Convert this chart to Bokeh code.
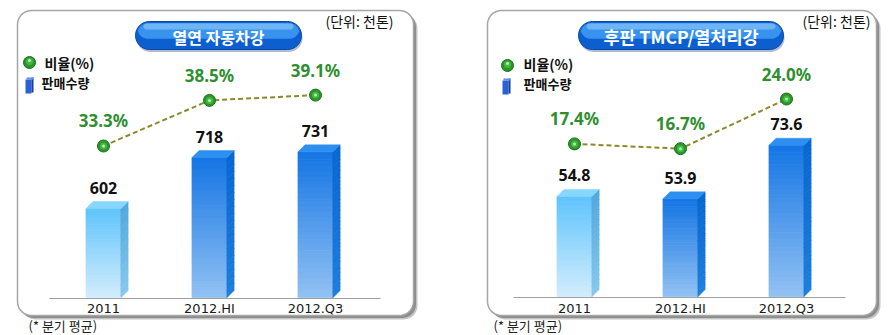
import math
from bokeh.plotting import figure
from bokeh.models import Range1d
from bokeh.embed import file_html
from bokeh.resources import INLINE
from bokeh.core.properties import value

# ---------------- data ----------------
categories = ["2011", "2012.HI", "2012.Q3"]

left_title = "열연 자동차강"
left_volume = [602, 718, 731]
left_ratio = [33.3, 38.5, 39.1]
left_volume_labels = ["602", "718", "731"]

right_title = "후판 TMCP/열처리강"
right_volume = [54.8, 53.9, 73.6]
right_ratio = [17.4, 16.7, 24.0]
right_volume_labels = ["54.8", "53.9", "73.6"]

unit_text = "(단위: 천톤)"
legend_ratio = "비율(%)"
legend_volume = "판매수량"
footnote_text = "(* 분기 평균)"

# ---------------- styles / layout ----------------
W, H = 893, 335
KR = value("Noto Sans CJK KR")
NUM = value("Noto Sans")
CAT = value("DejaVu Sans")

LIGHT = dict(front=("#d3edfc", "#60c4fd"), side=("#86c8ee", "#4ea7dc"), top="#86d6ff")
DARK = dict(front=("#92c2f3", "#1475e4"), side=("#1c7ddc", "#0766d0"), top="#2d8ff0")
bar_styles = [LIGHT, DARK, DARK]

panels = [
    dict(box=(17, 10, 413, 315), pill=(135, 21, 301, 49), title=left_title, title_size="16px",
         unit_x=393, leg_dot=(29, 62), leg_txt1=(44, 62), leg_icon=(25, 77), leg_txt2=(41, 82),
         cat0=103, spacing=106, base_px=297, base_val=400, k=0.44,
         pct_anchor=(36.97, 113.3, 8.77), line=(49, 380, 298), foot=(28, 325),
         volume=left_volume, vlabels=left_volume_labels, ratio=left_ratio),
    dict(box=(487, 10, 876, 315), pill=(578, 21, 783, 49), title=right_title, title_size="17.5px",
         unit_x=870, leg_dot=(507, 65), leg_txt1=(523, 63), leg_icon=(502, 78), leg_txt2=(523, 83),
         cat0=574, spacing=106, base_px=296, base_val=18.0, k=2.72,
         pct_anchor=(19.37, 130.0, 6.80), line=(513, 845, 297), foot=(493, 325),
         volume=right_volume, vlabels=right_volume_labels, ratio=right_ratio),
]


def hex2rgb(h):
    h = h.lstrip("#")
    return tuple(int(h[i:i + 2], 16) for i in (0, 2, 4))


def mix(c0, c1, t):
    a, b = hex2rgb(c0), hex2rgb(c1)
    return "#%02x%02x%02x" % tuple(int(round(a[i] + (b[i] - a[i]) * t)) for i in range(3))


def rrect(x0, y0, x1, y1, r, n=10):
    xs, ys = [], []
    corners = [((x0 + r, y0 + r), 180), ((x1 - r, y0 + r), 270),
               ((x1 - r, y1 - r), 0), ((x0 + r, y1 - r), 90)]
    for (cx, cy), a0 in corners:
        for j in range(n + 1):
            a = math.radians(a0 + 90 * j / n)
            xs.append(cx + r * math.cos(a))
            ys.append(cy + r * math.sin(a))
    return xs, ys


p = figure(width=W, height=H, x_range=Range1d(0, W), y_range=Range1d(H, 0),
           output_backend="svg", toolbar_location=None, min_border=0,
           x_axis_location=None, y_axis_location=None)
p.grid.visible = False
p.outline_line_color = None
p.background_fill_color = "white"
p.border_fill_color = "white"

for n, pn in enumerate(panels):
    cname, vname, pname = f"c{n}", f"v{n}", f"p{n}"
    sp = pn["spacing"]
    p.extra_x_ranges[cname] = Range1d(-pn["cat0"] / sp, (W - pn["cat0"]) / sp)
    k, bpx, bval = pn["k"], pn["base_px"], pn["base_val"]
    p.extra_y_ranges[vname] = Range1d(bval - (H - bpx) / k, bval + bpx / k)
    m, a, s = pn["pct_anchor"]
    p.extra_y_ranges[pname] = Range1d(m - (H - a) / s, m + a / s)

    # panel box with shadow
    x0, y0, x1, y1 = pn["box"]
    xs, ys = rrect(x0 + 4, y0 + 4, x1 + 4, y1 + 4, 14)
    p.patch(xs, ys, fill_color="#c4c4c4", line_color=None)
    xs, ys = rrect(x0 + 2.5, y0 + 2.5, x1 + 2.5, y1 + 2.5, 14)
    p.patch(xs, ys, fill_color="#8c8c8c", line_color=None)
    xs, ys = rrect(x0, y0, x1, y1, 14)
    p.patch(xs, ys, fill_color="white", line_color="#a6a6a6", line_width=1.5)

    # title pill
    px0, py0, px1, py1 = pn["pill"]
    r = (py1 - py0) / 2
    xs, ys = rrect(px0 + 1, py0 + 2.5, px1 + 1, py1 + 2.5, r)
    p.patch(xs, ys, fill_color="#1d3d6e", fill_alpha=0.35, line_color=None)
    xs, ys = rrect(px0, py0, px1, py1, r)
    p.patch(xs, ys, fill_color="#0d5fd0", line_color="#0a48a8", line_width=1)
    xs, ys = rrect(px0 + 2, py0 + 1.5, px1 - 2, py0 + (py1 - py0) * 0.62, r * 0.75)
    p.patch(xs, ys, fill_color="#3f9cf2", fill_alpha=0.85, line_color=None)
    xs, ys = rrect(px0 + 8, py0 + 2, px1 - 8, py0 + 8, 3)
    p.patch(xs, ys, fill_color="#9ed0fb", fill_alpha=0.55, line_color=None)
    p.text(x=[(px0 + px1) / 2], y=[(py0 + py1) / 2 + 1], text=[pn["title"]],
           text_font=KR, text_font_style="bold", text_font_size=pn["title_size"],
           text_color="white", text_align="center", text_baseline="middle")

    # unit text
    p.text(x=[pn["unit_x"]], y=[20], text=[unit_text], text_font=KR,
           text_font_size="14px", text_color="#111111",
           text_align="right", text_baseline="middle")

    # legend
    lx, ly = pn["leg_dot"]
    p.scatter([lx], [ly], size=12, fill_color="#2a962a", line_color="#1d6e1d")
    p.scatter([lx], [ly - 1], size=7, fill_color="#44b844", line_color=None)
    p.scatter([lx], [ly - 2], size=3, fill_color="#b8f0b0", line_color=None)
    p.text(x=[pn["leg_txt1"][0]], y=[pn["leg_txt1"][1]], text=[legend_ratio],
           text_font=KR, text_font_style="bold", text_font_size="14px",
           text_color="#111111", text_align="left", text_baseline="middle")
    ix, iy = pn["leg_icon"]
    p.quad(left=[ix], right=[ix + 6], top=[iy + 2], bottom=[iy + 16],
           fill_color="#2a5fd6", line_color=None)
    p.quad(left=[ix + 6], right=[ix + 8], top=[iy], bottom=[iy + 15],
           fill_color="#163c9c", line_color=None)
    p.quad(left=[ix + 1], right=[ix + 8], top=[iy], bottom=[iy + 2],
           fill_color="#5b8ef0", line_color=None)
    p.text(x=[pn["leg_txt2"][0]], y=[pn["leg_txt2"][1]], text=[legend_volume],
           text_font=KR, text_font_style="bold", text_font_size="13px",
           text_color="#111111", text_align="left", text_baseline="middle")

    # baseline
    lx0, lx1, lyy = pn["line"]
    p.line([lx0, lx1], [lyy, lyy], line_color="#a0a0a0", line_width=1)

    # bars (3D with gradient)
    idx = list(range(len(categories)))
    bw = 35 / sp
    dx = 7 / sp
    dy = 7 / k
    NS = 40
    fl, fr, fb, ft, fc = [], [], [], [], []
    sxs, sys_, sc = [], [], []
    txs, tys, tc = [], [], []
    for i, v in zip(idx, pn["volume"]):
        st = bar_styles[i]
        xl, xr = i - bw / 2, i + bw / 2
        for j in range(NS):
            ya = bval + (v - bval) * j / NS
            yb = bval + (v - bval) * (j + 1) / NS
            t = (j + 0.5) / NS
            fl.append(xl); fr.append(xr); fb.append(ya); ft.append(yb)
            fc.append(mix(st["front"][0], st["front"][1], t))
            sxs.append([xr, xr + dx, xr + dx, xr])
            sys_.append([ya, ya + dy, yb + dy, yb])
            sc.append(mix(st["side"][0], st["side"][1], t))
        txs.append([xl, xl + dx, xr + dx, xr])
        tys.append([v, v + dy, v + dy, v])
        tc.append(st["top"])
    p.quad(left=fl, right=fr, bottom=fb, top=ft, fill_color=fc, line_color=fc,
           line_width=0.8, x_range_name=cname, y_range_name=vname)
    p.patches(sxs, sys_, fill_color=sc, line_color=sc, line_width=0.8,
              x_range_name=cname, y_range_name=vname)
    p.patches(txs, tys, fill_color=tc, line_color=tc, line_width=0.5,
              x_range_name=cname, y_range_name=vname)

    # volume labels
    p.text(x=idx, y=pn["volume"], text=pn["vlabels"], text_font=NUM,
           text_font_style="bold", text_font_size="16px", text_color="#111111",
           text_align="center", text_baseline="middle", y_offset=-21,
           x_range_name=cname, y_range_name=vname)

    # ratio line and points
    p.line(idx, pn["ratio"], line_color="#8a8a2c", line_width=2, line_dash="5 3",
           x_range_name=cname, y_range_name=pname)
    p.scatter(idx, pn["ratio"], size=12, fill_color="#2a962a", line_color="#1d6e1d",
              x_range_name=cname, y_range_name=pname)
    p.scatter(idx, pn["ratio"], size=7, fill_color="#44b844", line_color=None,
              x_range_name=cname, y_range_name=pname)
    p.scatter(idx, pn["ratio"], size=3, fill_color="#b8f0b0", line_color=None,
              x_range_name=cname, y_range_name=pname)
    p.text(x=idx, y=pn["ratio"], text=[f"{r_:.1f}%" for r_ in pn["ratio"]],
           text_font=NUM, text_font_style="bold", text_font_size="17px",
           text_color="#2f8f2f", text_align="center", text_baseline="middle",
           y_offset=-25, x_range_name=cname, y_range_name=pname)

    # category labels
    p.text(x=idx, y=[308] * len(idx), text=categories, text_font=CAT,
           text_font_size="13px", text_color="#1a1a1a", text_align="center",
           text_baseline="middle", x_range_name=cname)

    # footnote
    p.text(x=[pn["foot"][0]], y=[pn["foot"][1]], text=[footnote_text], text_font=KR,
           text_font_size="13px", text_color="#222222", text_align="left",
           text_baseline="middle")

open("out.html", "w").write(file_html(p, INLINE))
